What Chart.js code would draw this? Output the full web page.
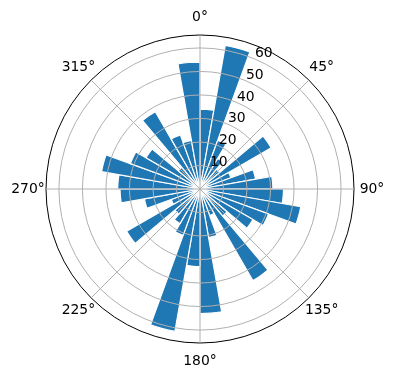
<!doctype html>
<html>
<head>
    <meta charset="UTF-8"/>
    <title>Polar Bars</title>
    <script src="https://cdn.jsdelivr.net/npm/chart.js@4.4.1/dist/chart.umd.min.js"></script>
</head>
<body style="margin: 0; background: #fff;">
<canvas id="myChart" width="396" height="380"></canvas>

<script>
    // 36 bars, 10 degrees each, clockwise from the top
    const barValues = [
        34, 62, 22, 15, 11, 35, 14, 24, 31,
        35.5, 43.5, 31, 26, 15, 45, 12, 21, 53,
        33, 61.5, 21, 17, 14, 36, 13, 24, 34,
        35, 42.5, 31.5, 26.5, 12, 38, 24.5, 21, 54
    ];
    const angleLabels = ['0°', '45°', '90°', '135°', '180°', '225°', '270°', '315°'];
    const tickValues = [10, 20, 30, 40, 50, 60];
    const rMax = 65.5;

    Chart.defaults.font.family = '"DejaVu Sans", sans-serif';

    // angle labels and radial tick labels placed like matplotlib
    const labelPlugin = {
        id: 'polarLabels',
        afterDraw(chart) {
            const r = chart.scales.r;
            const ctx = chart.ctx;
            ctx.save();
            ctx.fillStyle = '#000';
            ctx.font = '13.9px "DejaVu Sans"';
            ctx.textAlign = 'center';
            ctx.textBaseline = 'middle';
            angleLabels.forEach((lab, i) => {
                const p = r.getPointPosition(i, r.drawingArea + 18);
                ctx.fillText(lab, p.x, p.y);
            });
            ctx.textAlign = 'left';
            ctx.textBaseline = 'alphabetic';
            tickValues.forEach((v) => {
                const p = r.getPointPositionForValue(0.5, v);
                ctx.fillText(String(v), p.x + 1, p.y - 1.5);
            });
            ctx.restore();
        }
    };

    var ctx = document.getElementById('myChart').getContext('2d');
    var myChart = new Chart(ctx, {
        type: 'polarArea',
        data: {
            labels  : angleLabels,
            datasets: [
                {
                    data           : barValues,
                    angle          : 10,
                    backgroundColor: '#1f77b4',
                    borderColor    : '#ffffff',
                    borderWidth    : 1.2,
                }
            ]
        },
        options: {
            responsive: false,
            animation : false,
            layout    : {padding: {top: 35, bottom: 37, left: 46, right: 42}},
            plugins   : {legend: {display: false}, tooltip: {enabled: false}},
            scales    : {
                r: {
                    min       : 0,
                    max       : rMax,
                    startAngle: 0,
                    afterBuildTicks: (scale) => {
                        scale.ticks = [0].concat(tickValues, [rMax]).map((v) => ({value: v}));
                    },
                    ticks     : {display: false},
                    grid      : {
                        circular : true,
                        z        : 1,
                        color    : (c) => c.tick && c.tick.value === rMax ? '#000000' : '#b0b0b0',
                        lineWidth: 1,
                    },
                    angleLines: {display: true, color: '#b0b0b0', lineWidth: 1},
                    pointLabels: {display: false},
                }
            }
        },
        plugins: [labelPlugin]
    });
</script>
</body>
</html>
